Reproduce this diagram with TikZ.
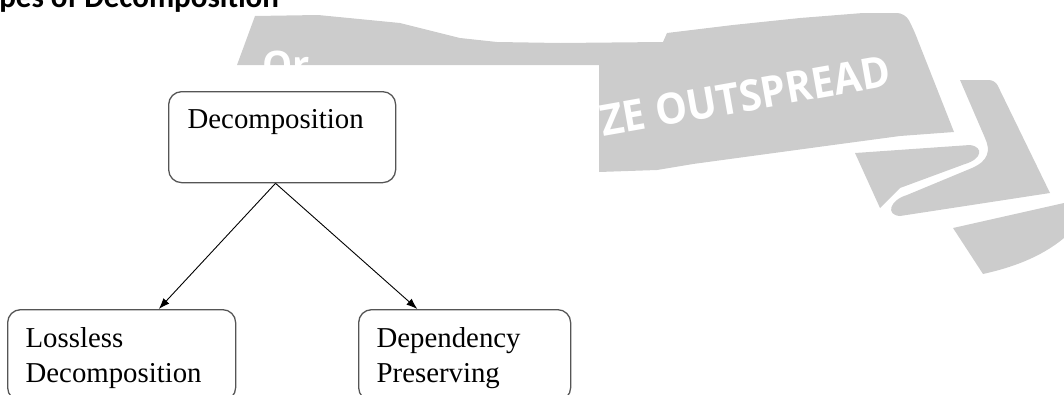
\documentclass[tikz,border=0pt]{standalone}
\usepackage{fontspec}
\setmainfont{Liberation Serif}
\newfontfamily\headfont{Carlito}
\newfontfamily\markfont{Open Sans}
\usetikzlibrary{arrows.meta,calc}
\definecolor{markgray}{HTML}{CCCCCC}
\definecolor{boxgray}{HTML}{555555}
\tikzset{
  decbox/.style={draw=boxgray, line width=1.3pt, rounded corners=13pt, anchor=north west,
    align=left, inner xsep=18pt, inner ysep=0pt, font=\fontsize{28.8}{35}\selectfont},
  decarrow/.style={-{Latex[length=11pt,width=8pt]}, line width=0.9pt}
}
\begin{document}
\begin{tikzpicture}[x=1pt,y=-1pt]
    \useasboundingbox (0,0) rectangle (1064,394);
    \clip (0,0) rectangle (1064,394);

    % Watermark ribbon behind the diagram
    \fill[markgray] (237,65) -- (255,16) -- (318,15) -- (400,23) -- (460,38) -- (497,42)
        -- (560,43) -- (663,42) -- (667,33) -- (733,25) -- (800,18) -- (863,13)
        [rounded corners=8pt] -- (905,13) -- (913,28) [sharp corners] -- (954,132)
        -- (900,136) -- (833,145) -- (693,164) -- (657,170) -- (599,172) -- (599,65) -- cycle;
    \fill[markgray] (855,153) -- (970,145) .. controls (984,147) and (982,159) .. (965,164)
        -- (900,188) -- (880,208) -- cycle;
    \fill[markgray] (960,80) [rounded corners=6pt] -- (995,80) [sharp corners] -- (1050,193)
        -- (900,216) .. controls (885,215) and (890,200) .. (907,195) -- (972,168)
        .. controls (988,161) and (991,151) .. (985,138) -- cycle;
    \fill[markgray] (953,228) -- (1064,203) -- (1064,238)
        .. controls (1040,258) and (1010,268) .. (983,274) -- cycle;

    % Ribbon lettering
    \node[text=white, inner sep=0pt, anchor=base, rotate=10, xscale=0.93,
        font=\markfont\bfseries\fontsize{43}{43}\selectfont] (marktext) at (748,111) {ZE OUTSPREAD};
    \begin{scope}
        \clip (230,0) rectangle (599,65);
        \node[text=white, inner sep=0pt, anchor=base west,
            font=\markfont\bfseries\fontsize{38}{38}\selectfont] (markpart) at (262,78) {Or};
    \end{scope}

    % Heading (cut by the top edge)
    \node[anchor=base west, inner sep=0pt, font=\headfont\bfseries\fontsize{31}{31}\selectfont]
        (heading) at (-30,7) {Types of Decomposition};

    % Boxes
    \node[decbox, text width=189pt, inner xsep=19pt, text height=37pt, text depth=54pt]
        (decomp) at (168,91) {Decomposition};
    \node[decbox, text width=192pt, text height=38pt, text depth=53pt]
        (lossless) at (7,309) {Lossless\\Decomposition};
    \node[decbox, text width=176pt, text height=38pt, text depth=53pt]
        (deppres) at (358,309) {Dependency\\Preserving};

    % Arrows
    \draw[decarrow] ($(decomp.south west)!0.471!(decomp.south east)$)
        -- ($(lossless.north west)!0.662!(lossless.north east)$);
    \draw[decarrow] ($(decomp.south west)!0.471!(decomp.south east)$)
        -- ($(deppres.north west)!0.278!(deppres.north east)$);
\end{tikzpicture}
\end{document}
